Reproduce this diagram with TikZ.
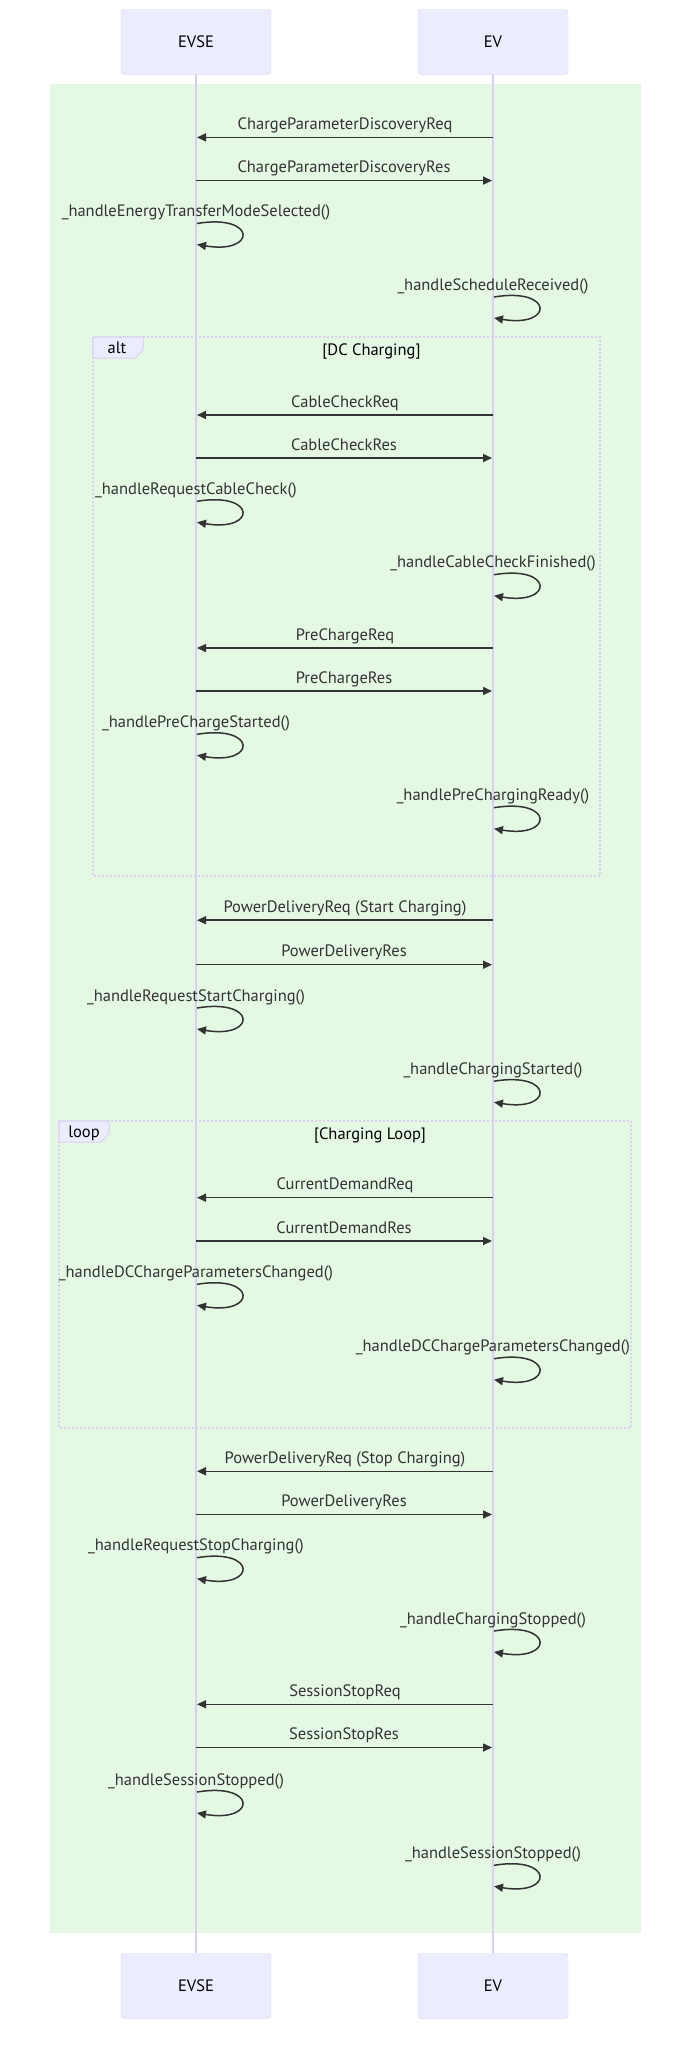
\documentclass[tikz,border=0pt]{standalone}
\usepackage{fontspec}
\setmainfont{PT Sans}
\usetikzlibrary{arrows.meta,calc}

\definecolor{actorbg}{HTML}{ECECFF}
\definecolor{actorbd}{RGB}{218,206,243}
\definecolor{rectbg}{RGB}{229,248,227}
\definecolor{msgline}{HTML}{333333}

\tikzset{
  actor/.style={draw=actorbd,fill=actorbg,rounded corners=3pt,minimum width=150pt,minimum height=65pt,font=\fontsize{16.5}{19}\selectfont},
  lifeline/.style={draw=actorbd,line width=1.5pt},
  msg/.style={draw=msgline,line width=1.5pt,-{Triangle[length=9pt,width=8pt]}},
  msglbl/.style={text=msgline,font=\fontsize{16.5}{19}\selectfont,anchor=base,inner sep=0pt},
  fragbox/.style={draw=actorbd,line width=1.5pt,dash pattern=on 2pt off 2pt},
  fragtab/.style={draw=actorbd,fill=actorbg,line width=1pt},
  fraglbl/.style={font=\fontsize{16.5}{19}\selectfont,anchor=base,inner sep=0pt}
}

\begin{document}
\begin{tikzpicture}[x=1pt,y=-1pt]
  \useasboundingbox (0,0) rectangle (699,2053);
  \def\xevse{196} \def\xev{493}
  % highlighted rect
  \fill[rectbg] (50,84) rectangle (641,1933);
  % participants
  \node[actor] (evse) at (\xevse,42) {EVSE};
  \node[actor] (ev) at (\xev,42) {EV};
  \node[actor] (evsebot) at (\xevse,1986) {EVSE};
  \node[actor] (evbot) at (\xev,1986) {EV};
  \draw[lifeline] (evse) -- (evsebot);
  \draw[lifeline] (ev) -- (evbot);
  % alt frame
  \draw[fragbox] (93,337) rectangle (600,876);
  \draw[fragtab] (93,337) -- (143,337) -- (143,350) -- (135,358) -- (93,358) -- cycle;
  \node[fraglbl] (alttag) at (117,353) {alt};
  \node[fraglbl] (altcond) at (371.5,355) {[DC Charging]};
  % loop frame
  \draw[fragbox] (59,1121) rectangle (631,1428);
  \draw[fragtab] (59,1121) -- (109,1121) -- (109,1134) -- (101,1142) -- (59,1142) -- cycle;
  \node[fraglbl] (looptag) at (84,1137) {loop};
  \node[fraglbl] (loopcond) at (370,1139) {[Charging Loop]};
  % EV -> EVSE
  \foreach \n/\y/\txt in {1/137.4/ChargeParameterDiscoveryReq,2/415/CableCheckReq,3/648/PreChargeReq,
      4/920.2/PowerDeliveryReq (Start Charging),5/1197.7/CurrentDemandReq,
      6/1471.3/PowerDeliveryReq (Stop Charging),7/1704.3/SessionStopReq}{
    \coordinate (reqs\n) at (\xev,\y);
    \coordinate (reqe\n) at (\xevse+1,\y);
    \draw[msg] (reqs\n) -- (reqe\n);
    \node[msglbl] (reql\n) at ($(reqs\n)!.5!(reqe\n)+(0,-8)$) {\txt};
  }
  % EVSE -> EV
  \foreach \n/\y/\txt in {1/180.6/ChargeParameterDiscoveryRes,2/458/CableCheckRes,3/691/PreChargeRes,
      4/964.7/PowerDeliveryRes,5/1241/CurrentDemandRes,6/1514.5/PowerDeliveryRes,7/1747.5/SessionStopRes}{
    \coordinate (ress\n) at (\xevse,\y);
    \coordinate (rese\n) at (\xev-1,\y);
    \draw[msg] (ress\n) -- (rese\n);
    \node[msglbl] (resl\n) at ($(ress\n)!.5!(rese\n)+(0,-8)$) {\txt};
  }
  % EVSE self calls
  \foreach \n/\y/\txt in {1/223.5/\_handleEnergyTransferModeSelected(),2/501.3/\_handleRequestCableCheck(),
      3/734.3/\_handlePreChargeStarted(),4/1008/\_handleRequestStartCharging(),
      5/1284.3/\_handleDCChargeParametersChanged(),6/1557.7/\_handleRequestStopCharging(),
      7/1792/\_handleSessionStopped()}{
    \coordinate (evsea\n) at (\xevse+1,\y);
    \coordinate (evseb\n) at (\xevse+1,\y+21);
    \draw[msg] (evsea\n) .. controls +(60,-10) and +(60,10) .. (evseb\n);
    \node[msglbl] (evsel\n) at ($(evsea\n)+(-1,-7)$) {\txt};
  }
  % EV self calls
  \foreach \n/\y/\txt in {1/297/\_handleScheduleReceived(),2/574.7/\_handleCableCheckFinished(),
      3/807.7/\_handlePreChargingReady(),4/1081.2/\_handleChargingStarted(),
      5/1358.7/\_handleDCChargeParametersChanged(),6/1631/\_handleChargingStopped(),
      7/1865.3/\_handleSessionStopped()}{
    \coordinate (eva\n) at (\xev+1,\y);
    \coordinate (evb\n) at (\xev+1,\y+21);
    \draw[msg] (eva\n) .. controls +(60,-10) and +(60,10) .. (evb\n);
    \node[msglbl] (evl\n) at ($(eva\n)+(-1,-7)$) {\txt};
  }
\end{tikzpicture}
\end{document}
